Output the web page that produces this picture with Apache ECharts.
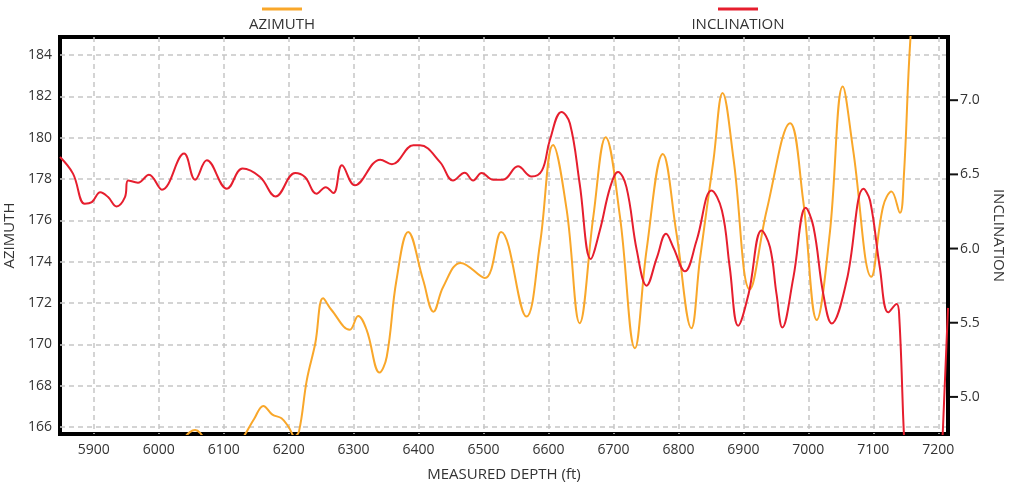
<!DOCTYPE html>
<html>
<head>
<meta charset="utf-8">
<title>Azimuth / Inclination vs Measured Depth</title>
<script src="https://cdn.jsdelivr.net/npm/echarts@6/dist/echarts.min.js"></script>
<style>
  html, body { margin: 0; padding: 0; background: #fff; }
  #chart { width: 1013px; height: 483px; }
</style>
</head>
<body>
<div id="chart"></div>
<script>
// measured depth (ft) and azimuth (deg)
const azDepth = [5848, 5880, 5920, 5960, 6000, 6030, 6048, 6056, 6064, 6080, 6100, 6120, 6133, 6147,
  6161, 6175, 6189, 6200, 6209, 6216, 6228, 6241, 6253, 6266, 6294, 6307, 6320, 6340, 6351, 6366,
  6384, 6407, 6423, 6438, 6465, 6502, 6527, 6566, 6587, 6607, 6628, 6648, 6669, 6688, 6710, 6733,
  6751, 6776, 6797, 6820, 6833, 6854, 6868, 6885, 6910, 6936, 6972, 6992, 7013, 7033, 7053, 7069,
  7097, 7115, 7128, 7141, 7147, 7157, 7175]
const azimuth = [163.8, 163.2, 163.6, 164.3, 164.6, 165.2, 165.75, 165.85, 165.7, 165.0, 164.6, 165.0, 165.65, 166.4,
  167.02, 166.6, 166.42, 166.0, 165.55, 165.8, 168.28, 170.05, 172.23, 171.66, 170.7, 171.37, 170.7, 168.63, 169.4, 173.11,
  175.44, 173.11, 171.58, 172.79, 173.94, 173.21, 175.44, 171.34, 174.89, 179.65, 176.5, 171.02, 176.18, 180.02, 176.18, 169.81,
  174.57, 179.21, 175.37, 170.78, 174.08, 178.92, 182.16, 178.92, 172.66, 176.5, 180.7, 176.98, 171.18, 175.37, 182.47, 179.4,
  173.27, 176.66, 177.39, 176.36, 178.11, 184.73, 192]

// measured depth (ft) and inclination (deg)
const incDepth = [5848, 5868, 5886, 5897, 5910, 5922, 5935, 5948, 5953, 5968, 5985, 6005, 6039, 6056,
  6074, 6105, 6129, 6156, 6180, 6210, 6225, 6243, 6257, 6269, 6282, 6302, 6341, 6359, 6392, 6402,
  6433, 6453, 6471, 6484, 6497, 6515, 6530, 6553, 6574, 6590, 6602, 6620, 6633, 6648, 6665, 6679,
  6695, 6707, 6720, 6736, 6751, 6767, 6781, 6792, 6810, 6828, 6851, 6867, 6879, 6892, 6908, 6928,
  6941, 6951, 6960, 6977, 6996, 7008, 7023, 7036, 7059, 7085, 7095, 7110, 7123, 7136, 7140, 7152,
  7170, 7195, 7203, 7215]
const inclination = [6.617, 6.505, 6.302, 6.313, 6.38, 6.347, 6.284, 6.347, 6.459, 6.444, 6.498, 6.397, 6.64, 6.464,
  6.595, 6.403, 6.539, 6.482, 6.351, 6.509, 6.482, 6.37, 6.414, 6.374, 6.561, 6.426, 6.599, 6.568, 6.696, 6.696,
  6.583, 6.459, 6.511, 6.459, 6.509, 6.464, 6.464, 6.554, 6.486, 6.527, 6.73, 6.921, 6.843, 6.437, 5.93, 6.122,
  6.414, 6.516, 6.414, 5.986, 5.75, 5.941, 6.099, 6.009, 5.847, 6.054, 6.392, 6.257, 5.874, 5.48, 5.694, 6.122,
  6.009, 5.694, 5.468, 5.806, 6.275, 6.144, 5.694, 5.495, 5.784, 6.403, 6.324, 5.874, 5.57, 5.626, 5.536, 4.4,
  3.9, 3.9, 4.4, 5.6]

const orange = '#f9a72a'
const red = '#e61e2e'
const font = 'Open Sans'
const gridLine = { show: true, showMinLine: false, showMaxLine: false,
  lineStyle: { color: '#c6c6c6', width: 1.5, type: [5, 4] } }

const chart = echarts.init(document.getElementById('chart'))

function legendFor(name, color, left) {
  return {
    data: [name],
    left: left,
    top: 3,
    padding: 0,
    itemWidth: 0,
    itemHeight: 0,
    itemGap: 0,
    selectedMode: false,
    formatter: n => '{l|}\n{t|' + n + '}',
    textStyle: {
      rich: {
        l: { width: 40, height: 3, backgroundColor: color, align: 'center' },
        t: { width: 110, align: 'center', fontSize: 15, lineHeight: 28, color: '#333', fontFamily: font }
      }
    }
  }
}

const option = {
  animation: false,
  legend: [
    legendFor('AZIMUTH', orange, 281 - 60),
    legendFor('INCLINATION', red, 737 - 60)
  ],
  grid: {
    left: 60, right: 65, top: 37, bottom: 49,
    outerBoundsMode: 'none',
    show: true, borderColor: '#000', borderWidth: 4
  },
  xAxis: {
    type: 'value',
    min: 5848, max: 7215,
    minInterval: 100, maxInterval: 100,
    name: 'MEASURED DEPTH (ft)',
    nameLocation: 'middle',
    nameGap: 33,
    nameTextStyle: { color: '#333', fontSize: 15, fontFamily: font },
    axisLine: { show: false },
    axisTick: { show: false },
    axisLabel: {
      color: '#333', fontSize: 14, fontFamily: font, margin: 9,
      formatter: v => (Math.abs(v % 100) < 1e-6 ? String(v) : '')
    },
    splitLine: gridLine
  },
  yAxis: [
    {
      type: 'value',
      position: 'left',
      min: 165.66, max: 184.87,
      minInterval: 2, maxInterval: 2,
      name: 'AZIMUTH',
      nameLocation: 'middle',
      nameGap: 34,
      nameTextStyle: { color: '#333', fontSize: 15, fontFamily: font },
      axisLine: { show: false },
      axisTick: { show: false },
      axisLabel: {
        color: '#333', fontSize: 14, fontFamily: font, margin: 8,
        formatter: v => {
          const r = Math.round(v)
          return Math.abs(v - r) < 1e-6 && r % 2 === 0 ? String(r) : ''
        }
      },
      splitLine: gridLine
    },
    {
      type: 'value',
      position: 'right',
      min: 4.75, max: 7.426,
      minInterval: 0.5, maxInterval: 0.5,
      name: 'INCLINATION',
      nameLocation: 'middle',
      nameRotate: -90,
      nameGap: 42,
      nameTextStyle: { color: '#333', fontSize: 15, fontFamily: font },
      axisLine: { show: true, onZero: false, lineStyle: { color: '#000', width: 4 } },
      axisTick: { show: false },
      axisLabel: {
        color: '#333', fontSize: 14, fontFamily: font, margin: 2,
        // the outward tick mark is drawn as part of the label
        formatter: v => {
          const r = Math.round(v * 2) / 2
          return Math.abs(v - r) < 1e-6 ? '{tk|}{v|' + r.toFixed(1) + '}' : ''
        },
        rich: {
          tk: { width: 8, height: 2, backgroundColor: '#111' },
          v: { color: '#333', fontSize: 14, fontFamily: font, padding: [0, 0, 0, 2] }
        }
      },
      splitLine: { show: false }
    }
  ],
  series: [
    {
      name: 'AZIMUTH',
      type: 'line',
      yAxisIndex: 0,
      data: azDepth.map((d, i) => [d, azimuth[i]]),
      showSymbol: false,
      smooth: 0.4,
      clip: true,
      color: orange,
      lineStyle: { color: orange, width: 2 }
    },
    {
      name: 'INCLINATION',
      type: 'line',
      yAxisIndex: 1,
      data: incDepth.map((d, i) => [d, inclination[i]]),
      showSymbol: false,
      smooth: 0.4,
      clip: true,
      color: red,
      lineStyle: { color: red, width: 2 }
    }
  ]
}

chart.setOption(option)
</script>
</body>
</html>
